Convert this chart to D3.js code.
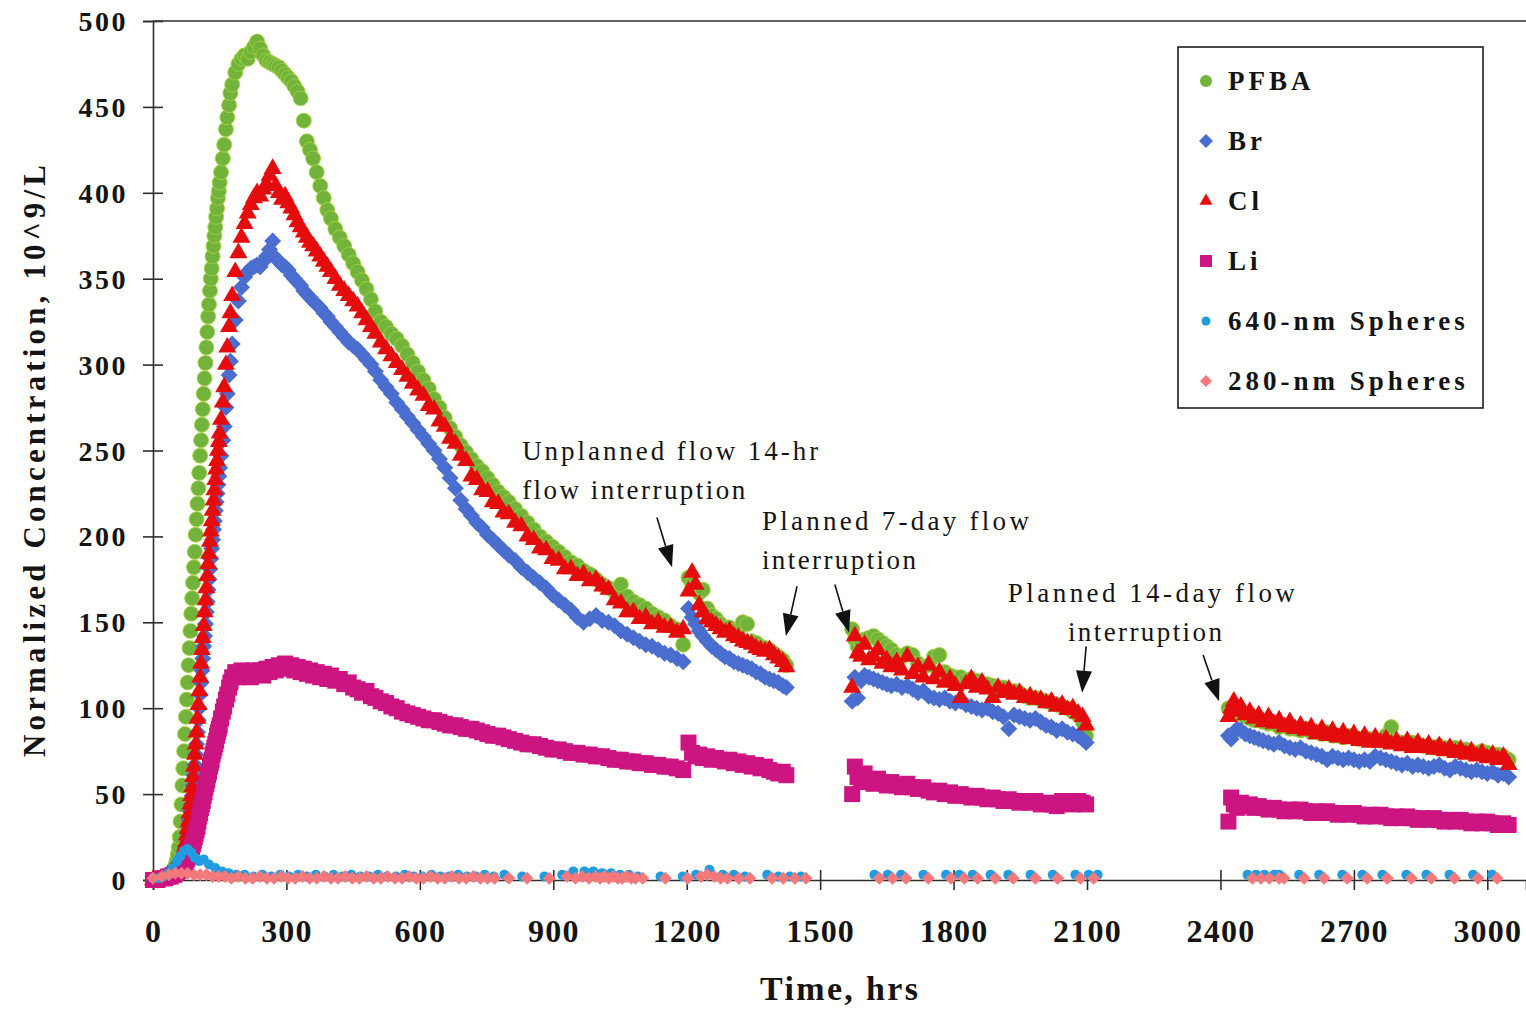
<!DOCTYPE html>
<html>
<head>
<meta charset="utf-8">
<title>Normalized tracer concentrations</title>
<script src="https://cdn.jsdelivr.net/npm/d3@7"></script>
<style>
  html, body { margin: 0; padding: 0; background: #fffffd; }
  svg { display: block; }
  text { font-family: "Liberation Serif", "Times New Roman", serif; fill: #141414; }
</style>
</head>
<body>
<svg id="chart" width="1526" height="1011"></svg>
<script>
// ---- sampling times (hrs) shared by the four solute tracers ----
const hours = [
  // first flow period
  0, 10, 20, 28, 34, 40, 44, 48,
  50, 52, 54, 56, 58, 60, 62, 64, 66, 68,
  70, 72, 74, 76, 78, 80, 82, 84, 86, 88,
  90, 92, 94, 96, 98, 100, 102, 104, 106, 108,
  110, 112, 114, 116, 118, 120, 122, 124, 126, 128,
  130, 132, 134, 136, 138, 140, 142, 144, 146, 148,
  150, 153, 157, 160, 164, 167, 171, 174, 178,
  185, 192, 199, 206, 213, 220, 227, 234,
  241, 248, 255, 262, 269, 276, 283, 290, 297, 304,
  311, 318, 325, 332, 339, 346, 353, 360, 368, 376,
  384, 392, 400, 410, 420, 430, 440, 450, 460, 470,
  480, 490, 500, 512, 524, 536, 548, 560, 572, 584,
  596, 608, 620, 632, 644, 656, 668, 680, 692, 704,
  716, 728, 740, 752, 764, 776, 788, 800, 814, 828,
  842, 856, 870, 884, 898, 912, 926, 940, 954, 968,
  982, 996, 1010, 1024, 1038, 1052, 1066, 1080, 1094, 1108,
  1122, 1136, 1150, 1164, 1178, 1192,
  // after the 14-hr stop
  1204, 1212, 1220, 1228, 1236, 1246, 1256, 1266, 1276, 1286,
  1296, 1306, 1316, 1326, 1336, 1346, 1356, 1366, 1376, 1386,
  1396, 1406, 1416, 1424,
  // after the 7-day stop
  1572, 1578, 1584, 1592, 1600, 1610, 1620, 1630, 1640, 1650,
  1660, 1672, 1684, 1696, 1708, 1720, 1732, 1744, 1756, 1768,
  1780, 1792, 1804, 1816, 1828, 1840, 1852, 1864, 1876, 1888,
  1900, 1912, 1924, 1936, 1948, 1960, 1972, 1984, 1996, 2008,
  2020, 2032, 2044, 2056, 2068, 2080, 2090, 2098,
  // after the 14-day stop
  2418, 2424, 2430, 2438, 2446, 2456, 2466, 2476, 2486, 2496,
  2508, 2520, 2532, 2544, 2556, 2568, 2580, 2592, 2604, 2616,
  2628, 2640, 2652, 2664, 2676, 2688, 2700, 2712, 2724, 2736,
  2748, 2760, 2772, 2784, 2796, 2808, 2820, 2832, 2844, 2856,
  2868, 2880, 2892, 2904, 2916, 2928, 2940, 2952, 2964, 2976,
  2988, 3000, 3012, 3024, 3036, 3048
];

const pfba = [
  0, 0, 1, 1, 2, 3, 5, 7,
  8, 10, 12, 15, 19, 25, 34, 44, 55, 65,
  75, 85, 95, 105, 115, 125, 135, 145, 155, 164,
  173, 182, 191, 201, 210, 219, 228, 237, 247, 256,
  265, 274, 283, 292, 301, 310, 319, 328, 335, 343,
  350, 356, 363, 369, 375, 380, 386, 391, 397, 401,
  406, 412, 420, 428, 437, 444, 451, 458, 463,
  470, 475, 478, 480, 478, 482, 485, 488,
  484, 480, 477, 476, 475, 474, 473, 471, 469, 467,
  465, 462, 459, 455, 442, 430, 425, 420, 412, 404,
  397, 390, 385, 379, 374, 369, 364, 359, 354, 349,
  344, 338, 331, 325, 322, 318, 315, 311, 306, 301,
  296, 291, 286, 280, 275, 269, 263, 258, 253, 249,
  245, 241, 238, 234, 230, 226, 223, 220, 216, 212,
  208, 204, 200, 197, 194, 191, 188, 185, 183, 180,
  178, 175, 172, 170, 168, 172, 165, 162, 160, 158,
  155, 153, 151, 148, 146, 137,
  176, 172, 170, 167, 169, 158, 154, 152, 149, 147,
  147, 145, 144, 150, 149, 139, 138, 136, 135, 134,
  132, 130, 128, 125,
  146, 140, 136, 138, 140, 141, 142, 140, 138, 136,
  134, 131, 130, 132, 131, 126, 124, 125, 130, 131,
  121, 119, 118, 118, 116, 117, 116, 114, 114, 113,
  112, 112, 110, 110, 109, 107, 106, 106, 105, 104,
  103, 102, 101, 100, 98, 96, 92, 84,
  100, 98, 97, 99, 97, 95, 94, 93, 93, 92,
  91, 91, 89, 90, 88, 88, 87, 88, 86, 86,
  85, 86, 84, 84, 83, 84, 83, 82, 83, 82,
  82, 81, 84, 89, 80, 80, 79, 80, 79, 78,
  78, 77, 78, 77, 76, 77, 75, 76, 75, 74,
  75, 74, 73, 73, 72, 70
];

const bromide = [
  0, 0, 1, 1, 2, 2, 2, 3,
  3, 4, 5, 5, 6, 8, 9, 10, 12, 13,
  15, 18, 20, 24, 27, 31, 35, 40, 44, 49,
  55, 61, 67, 73, 79, 86, 93, 100, 108, 115,
  122, 129, 136, 142, 149, 156, 162, 169, 175, 181,
  187, 193, 198, 204, 209, 215, 220, 225, 230, 235,
  240, 247, 256, 264, 275, 283, 294, 302, 312,
  326, 337, 345, 351, 354, 356, 357, 358,
  357, 360, 363, 367, 372, 362, 360, 358, 357, 355,
  352, 350, 348, 346, 343, 341, 339, 337, 335, 333,
  330, 328, 325, 322, 319, 316, 313, 311, 309, 306,
  303, 300, 296, 291, 287, 283, 278, 274, 270, 266,
  262, 258, 254, 250, 245, 240, 234, 228, 221, 216,
  212, 208, 205, 201, 198, 195, 192, 189, 186, 182,
  179, 176, 173, 170, 166, 163, 160, 157, 153, 150,
  152, 154, 151, 150, 148, 145, 143, 141, 139, 137,
  136, 134, 132, 131, 129, 127,
  158, 153, 149, 145, 142, 139, 136, 134, 132, 130,
  129, 127, 126, 125, 124, 123, 121, 120, 118, 117,
  116, 115, 113, 112,
  104, 118, 106, 116, 119, 118, 117, 116, 115, 114,
  113, 114, 112, 113, 111, 109, 110, 107, 106, 105,
  106, 104, 103, 104, 102, 101, 100, 99, 100, 98,
  97, 95, 88, 96, 95, 94, 93, 94, 92, 90,
  89, 87, 88, 86, 85, 84, 82, 80,
  84, 82, 86, 88, 87, 85, 84, 83, 82, 81,
  80, 79, 80, 78, 77, 76, 77, 75, 74, 73,
  72, 70, 72, 71, 70, 71, 70, 69, 70, 69,
  72, 71, 70, 69, 68, 67, 68, 66, 67, 66,
  65, 66, 67, 65, 64, 66, 65, 64, 63, 64,
  63, 62, 63, 61, 62, 60
];

const chloride = [
  0, 0, 1, 1, 2, 3, 3, 4,
  4, 5, 6, 7, 8, 9, 10, 12, 13, 14,
  16, 19, 22, 26, 30, 34, 39, 44, 49, 54,
  60, 66, 73, 79, 86, 94, 102, 110, 118, 126,
  134, 141, 148, 156, 163, 170, 177, 184, 190, 197,
  203, 209, 215, 221, 227, 233, 239, 244, 250, 255,
  260, 268, 278, 287, 300, 310, 322, 330, 340,
  354, 365, 374, 382, 388, 393, 397, 400,
  398, 402, 405, 410, 414, 404, 400, 396, 398, 394,
  391, 387, 383, 380, 377, 374, 371, 369, 366, 363,
  360, 357, 354, 350, 346, 343, 340, 337, 334, 330,
  326, 322, 318, 313, 309, 305, 301, 297, 293, 289,
  285, 282, 276, 274, 267, 264, 257, 254, 247, 244,
  235, 233, 227, 226, 220, 219, 214, 213, 208, 206,
  200, 198, 193, 192, 187, 186, 181, 181, 177, 178,
  174, 175, 171, 169, 163, 161, 156, 156, 152, 153,
  149, 150, 147, 147, 144, 146,
  168, 179, 172, 160, 156, 152, 150, 148, 146, 144,
  145, 142, 141, 139, 138, 137, 135, 134, 133, 134,
  131, 129, 127, 124,
  112, 142, 132, 130, 137, 128, 130, 134, 126, 128,
  124, 127, 122, 130, 120, 124, 118, 125, 117, 121,
  115, 117, 113, 106, 114, 117, 112, 115, 111, 106,
  112, 109, 111, 108, 109, 106, 107, 105, 105, 103,
  104, 101, 102, 99, 100, 97, 95, 90,
  95, 100, 104, 98, 101, 96, 98, 94, 96, 92,
  95, 91, 93, 89, 92, 88, 90, 87, 89, 85,
  88, 84, 87, 83, 86, 82, 85, 81, 84, 80,
  83, 80, 82, 79, 81, 78, 81, 77, 80, 77,
  79, 76, 78, 75, 77, 74, 76, 73, 75, 72,
  74, 71, 73, 70, 72, 67
];

const lithium = [
  0, 0, 1, 1, 2, 2, 3, 3,
  4, 4, 5, 5, 6, 6, 6, 7, 7, 8,
  9, 10, 11, 12, 13, 14, 15, 16, 18, 19,
  21, 23, 25, 27, 29, 31, 34, 37, 39, 42,
  44, 46, 49, 51, 54, 56, 58, 61, 63, 66,
  68, 70, 73, 75, 77, 79, 81, 84, 86, 88,
  90, 94, 98, 101, 105, 108, 112, 115, 118,
  121, 118, 122, 119, 121, 118, 122, 120,
  122, 119, 123, 121, 124, 122, 125, 123, 126, 124,
  125, 122, 124, 121, 123, 120, 122, 119, 121, 118,
  120, 117, 119, 116, 117, 114, 115, 112, 111, 109,
  110, 107, 106, 104, 103, 101, 100, 98, 97, 96,
  95, 94, 93, 93, 92, 91, 90, 90, 89, 88,
  88, 87, 86, 85, 84, 84, 83, 82, 81, 80,
  79, 79, 78, 77, 76, 76, 75, 74, 74, 73,
  73, 72, 72, 71, 70, 70, 69, 69, 68, 68,
  67, 67, 66, 66, 65, 64,
  80, 74, 72, 73, 71, 72, 70, 71, 70, 69,
  70, 68, 69, 67, 68, 66, 67, 65, 66, 64,
  63, 62, 63, 61,
  50, 66, 60, 57, 62, 58, 56, 59, 57, 55,
  57, 55, 54, 56, 54, 53, 54, 52, 51, 52,
  50, 51, 49, 50, 49, 48, 49, 48, 47, 48,
  47, 46, 47, 46, 45, 46, 45, 46, 44, 45,
  44, 43, 46, 45, 44, 46, 45, 44,
  34, 48, 44, 42, 45, 43, 44, 42, 43, 42,
  41, 42, 41, 40, 41, 40, 41, 40, 39, 40,
  39, 40, 39, 38, 39, 38, 39, 38, 37, 38,
  37, 38, 37, 36, 37, 36, 37, 36, 35, 36,
  35, 36, 35, 34, 35, 34, 35, 34, 33, 34,
  33, 34, 33, 32, 33, 32
];

// ---- microsphere samples ----
const hours640 = [
  0, 12, 24, 34, 44, 54, 62, 70, 78, 86,
  94, 104, 114, 126, 140, 155, 170, 188, 206, 226,
  246, 266, 286, 306, 326, 346, 366, 386, 406, 426,
  446, 466, 486, 506, 526, 546, 566, 586, 606, 626,
  646, 666, 686, 706, 726, 746, 766, 790, 830, 880,
  920, 945, 970, 990, 1010, 1030, 1050, 1070, 1090, 1141,
  1191, 1221, 1251, 1281, 1306, 1331, 1381, 1406, 1432, 1457,
  1622, 1652, 1682, 1732, 1783, 1813, 1843, 1883, 1923, 1973,
  2023, 2074, 2104, 2124,
  2461, 2480, 2499, 2521, 2532, 2577, 2622, 2674, 2719, 2764,
  2818, 2863, 2915, 2968, 3011
];
const spheres640 = [
  1, 1, 2, 4, 7, 11, 14, 17, 18, 16,
  13, 11, 12, 9, 7, 5, 4, 3, 3, 2,
  3, 2, 3, 2, 3, 2, 3, 2, 3, 2,
  3, 2, 2, 3, 2, 2, 3, 2, 2, 3,
  2, 2, 3, 2, 2, 3, 2, 3, 2, 2,
  3, 5, 5, 5, 4, 4, 3, 3, 2, 2,
  2, 3, 6, 3, 3, 2, 3, 2, 2, 2,
  3, 3, 3, 3, 3, 3, 3, 3, 3, 3,
  3, 3, 3, 3,
  3, 3, 3, 3, 3, 3, 3, 3, 3, 3,
  3, 3, 3, 3, 3
];

const hours280 = [
  0, 20, 36, 50, 64, 78, 92, 106, 120, 134,
  148, 162, 176, 192, 208, 224, 240, 256, 272, 288,
  304, 320, 336, 352, 368, 384, 400, 416, 432, 448,
  464, 480, 496, 512, 528, 544, 560, 576, 592, 608,
  624, 640, 656, 672, 688, 704, 720, 736, 752, 768,
  800, 841, 891, 931, 950, 965, 980, 995, 1005, 1015,
  1025, 1035, 1045, 1055, 1065, 1075, 1085, 1101, 1152, 1202,
  1232, 1246, 1262, 1276, 1292, 1317, 1342, 1392, 1417, 1443,
  1468,
  1633, 1663, 1693, 1743, 1794, 1824, 1854, 1894, 1934, 1984,
  2034, 2085, 2115,
  2472, 2491, 2510, 2532, 2543, 2588, 2633, 2685, 2730, 2775,
  2829, 2874, 2926, 2979, 3022
];
const spheres280 = [
  1, 2, 3, 4, 4, 4, 3, 3, 3, 2,
  2, 2, 1, 2, 1, 1, 2, 1, 1, 2,
  1, 1, 2, 1, 1, 2, 1, 1, 2, 1,
  1, 2, 1, 1, 2, 1, 1, 2, 1, 1,
  2, 1, 1, 2, 1, 1, 2, 1, 1, 1,
  1, 1, 1, 2, 1, 2, 1, 2, 1, 2,
  1, 2, 1, 1, 2, 1, 1, 1, 1, 1,
  2, 3, 2, 1, 1, 1, 1, 1, 1, 1,
  1,
  1, 1, 1, 1, 1, 1, 1, 1, 1, 1,
  1, 1, 1,
  1, 1, 1, 1, 1, 1, 1, 1, 1, 1,
  1, 1, 1, 1, 1
];

// ---- axes and labels ----
const xTicks = [0, 300, 600, 900, 1200, 1500, 1800, 2100, 2400, 2700, 3000];
const yTicks = [0, 50, 100, 150, 200, 250, 300, 350, 400, 450, 500];
const seriesNames = ["PFBA", "Br", "Cl", "Li", "640-nm Spheres", "280-nm Spheres"];
const xTitle = "Time, hrs";
const yTitle = "Normalized Concentration, 10^9/L";
const noteLines = [
  "Unplanned flow 14-hr", "flow interruption",
  "Planned 7-day flow", "interruption",
  "Planned 14-day flow", "interruption"
];

// ---------------------------------------------------------------
const svg = d3.select("#chart");
const W = 1526, H = 1011;
const plot = { left: 153, right: 1526, top: 21, bottom: 880 };

svg.append("rect").attr("width", W).attr("height", H).attr("fill", "#fffffd");

const x = d3.scaleLinear().domain([0, 3087]).range([plot.left, plot.right]);
const y = d3.scaleLinear().domain([0, 500]).range([plot.bottom, plot.top]);

// marker shapes
const shapes = {
  circle: r => d3.symbol(d3.symbolCircle, Math.PI * r * r)(),
  diamond: h => `M0,${-h}L${h},0L0,${h}L${-h},0Z`,
  triangle: s => { const hh = s * Math.sqrt(3) / 2; return `M0,${-2 * hh / 3}L${s / 2},${hh / 3}L${-s / 2},${hh / 3}Z`; },
  square: s => `M${-s / 2},${-s / 2}h${s}v${s}h${-s}Z`
};

const styles = [
  { color: "#72b43b", halo: "#a9d23f", path: shapes.circle(7.5), legend: shapes.circle(6) },
  { color: "#4a6ecf", halo: null,      path: shapes.diamond(8.5), legend: shapes.diamond(7) },
  { color: "#e40c0c", halo: null,      path: shapes.triangle(18), legend: shapes.triangle(13) },
  { color: "#cc1580", halo: null,      path: shapes.square(16),   legend: shapes.square(12) },
  { color: "#1f9de0", halo: null,      path: shapes.circle(5),    legend: shapes.circle(4.5) },
  { color: "#f3797d", halo: null,      path: shapes.diamond(6.5), legend: shapes.diamond(6) }
];

const series = [
  { t: hours, v: pfba },
  { t: hours, v: bromide },
  { t: hours, v: chloride },
  { t: hours, v: lithium },
  { t: hours640, v: spheres640 },
  { t: hours280, v: spheres280 }
];

// axes
const axisColor = "#2e2e2e";
const gx = svg.append("g")
  .attr("transform", `translate(0,${plot.bottom})`)
  .call(d3.axisBottom(x).tickValues(xTicks).tickSizeOuter(0).tickSize(10).tickFormat(d3.format("d")));
gx.select(".domain").attr("stroke", axisColor).attr("stroke-width", 1.6);
gx.selectAll(".tick line").attr("y1", -10).attr("y2", 10).attr("stroke", axisColor).attr("stroke-width", 1.6);
gx.selectAll(".tick text")
  .attr("y", 62).attr("dy", null)
  .attr("font-family", "'Liberation Serif', 'Times New Roman', serif")
  .attr("font-size", 32).attr("font-weight", "bold")
  .attr("letter-spacing", 1.2).attr("fill", "#141414");

const gy = svg.append("g")
  .attr("transform", `translate(${plot.left},0)`)
  .call(d3.axisLeft(y).tickValues(yTicks).tickSizeOuter(0).tickSize(10));
gy.select(".domain").attr("stroke", axisColor).attr("stroke-width", 1.6);
gy.selectAll(".tick line").attr("x1", -10).attr("x2", 10).attr("stroke", axisColor).attr("stroke-width", 1.6);
gy.selectAll(".tick text")
  .attr("x", -25).attr("dy", "0.34em")
  .attr("font-family", "'Liberation Serif', 'Times New Roman', serif")
  .attr("font-size", 28).attr("font-weight", "bold")
  .attr("letter-spacing", 2.5).attr("fill", "#141414");

// top border of the plot area
svg.append("line")
  .attr("x1", plot.left).attr("x2", plot.right)
  .attr("y1", plot.top).attr("y2", plot.top)
  .attr("stroke", axisColor).attr("stroke-width", 1.6);

// data markers
const marks = svg.append("g");
series.forEach((s, i) => {
  const pts = s.t.map((t, k) => [t, s.v[k]]).filter(p => p[1] !== undefined);
  const st = styles[i];
  marks.append("g")
    .selectAll("path")
    .data(pts)
    .join("path")
    .attr("d", st.path)
    .attr("transform", d => `translate(${x(d[0])},${y(d[1])})`)
    .attr("fill", st.color)
    .attr("stroke", st.halo || "none")
    .attr("stroke-width", st.halo ? 0.8 : 0);
});

// axis titles
svg.append("text")
  .attr("x", 839).attr("y", 1000)
  .attr("text-anchor", "middle")
  .attr("font-size", 34).attr("font-weight", "bold")
  .attr("textLength", 158).attr("lengthAdjust", "spacing")
  .text(xTitle);

svg.append("text")
  .attr("transform", "translate(45,461) rotate(-90)")
  .attr("text-anchor", "middle")
  .attr("font-size", 31).attr("font-weight", "bold")
  .attr("textLength", 592).attr("lengthAdjust", "spacing")
  .text(yTitle);

// legend
const lg = svg.append("g");
lg.append("rect")
  .attr("x", 1178).attr("y", 47).attr("width", 305).attr("height", 361)
  .attr("fill", "#ffffff").attr("stroke", "#1e1e1e").attr("stroke-width", 1.6);
seriesNames.forEach((name, i) => {
  const cy = 81 + i * 60;
  lg.append("path")
    .attr("d", styles[i].legend)
    .attr("transform", `translate(1206,${cy})`)
    .attr("fill", styles[i].color);
  lg.append("text")
    .attr("x", 1228).attr("y", cy + 9)
    .attr("font-size", 27).attr("font-weight", "bold")
    .attr("letter-spacing", 4)
    .text(name);
});

// annotations: text anchored in data units (hours, concentration)
const noteAnchors = [
  { t: 830, v: 244.5, w: 296 }, { t: 830, v: 222, w: 223 },
  { t: 1369, v: 204, w: 267 }, { t: 1369, v: 181, w: 154 },
  { t: 1922, v: 162, w: 287 }, { t: 2057, v: 139, w: 154 }
];
noteLines.forEach((line, i) => {
  const a = noteAnchors[i];
  svg.append("text")
    .attr("x", x(a.t)).attr("y", y(a.v))
    .attr("font-size", 27)
    .attr("textLength", a.w).attr("lengthAdjust", "spacing")
    .text(line);
});

// arrows pointing at the flow interruptions
const arrows = [
  { from: [1133, 211], to: [1167, 182] },
  { from: [1448, 171], to: [1423, 142] },
  { from: [1533, 172], to: [1565, 144] },
  { from: [2098, 136], to: [2089, 109] },
  { from: [2361, 131], to: [2397, 104] }
];
const ag = svg.append("g");
arrows.forEach(a => {
  const x0 = x(a.from[0]), y0 = y(a.from[1]);
  const x1 = x(a.to[0]), y1 = y(a.to[1]);
  const ang = Math.atan2(y1 - y0, x1 - x0);
  const L = 22, hw = 8;
  const bx = x1 - L * Math.cos(ang), by = y1 - L * Math.sin(ang);
  const px = -Math.sin(ang), py = Math.cos(ang);
  ag.append("line")
    .attr("x1", x0).attr("y1", y0).attr("x2", bx).attr("y2", by)
    .attr("stroke", "#111").attr("stroke-width", 1.6);
  ag.append("path")
    .attr("d", `M${x1},${y1}L${bx + hw * px},${by + hw * py}L${bx - hw * px},${by - hw * py}Z`)
    .attr("fill", "#111");
});
</script>
</body>
</html>
